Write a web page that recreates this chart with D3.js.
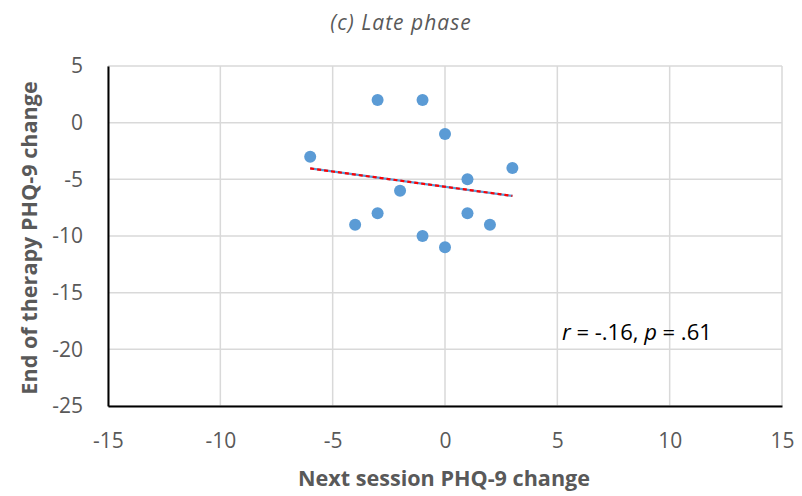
<!DOCTYPE html>
<html>
<head>
<meta charset="utf-8">
<script src="https://cdn.jsdelivr.net/npm/d3@7"></script>
<style>
  html, body { margin: 0; padding: 0; background: #fff; }
  svg { display: block; font-family: "Open Sans", "Liberation Sans", sans-serif; }
</style>
</head>
<body>
<svg id="chart" width="802" height="496"></svg>
<script>
// Late-phase change scores: next session vs end of therapy (PHQ-9)
const nextSessionChange = [-6, -3, -1, 0, 3, 1, -2, -3, -4, 1, 2, -1, 0];
const endOfTherapyChange = [-3, 2, 2, -1, -4, -5, -6, -8, -9, -8, -9, -10, -11];
const xTicks = [-15, -10, -5, 0, 5, 10, 15];
const yTicks = [5, 0, -5, -10, -15, -20, -25];
const titleText = "(c) Late phase";
const xTitle = "Next session PHQ-9 change";
const yTitle = "End of therapy PHQ-9 change";

const svg = d3.select("#chart");

const x = d3.scaleLinear().domain([-15, 15]).range([108, 782]);
const y = d3.scaleLinear().domain([-25, 5]).range([406, 66]);

const grey = "#595959";

// gridlines
svg.append("g").selectAll("line").data(xTicks).join("line")
  .attr("x1", d => x(d)).attr("x2", d => x(d))
  .attr("y1", y(5)).attr("y2", y(-25))
  .attr("stroke", "#d9d9d9").attr("stroke-width", 1.5);
svg.append("g").selectAll("line").data(yTicks).join("line")
  .attr("x1", x(-15)).attr("x2", x(15))
  .attr("y1", d => y(d)).attr("y2", d => y(d))
  .attr("stroke", "#d9d9d9").attr("stroke-width", 1.5);

// axes
const xAxis = svg.append("g").attr("transform", `translate(0,${y(-25)})`)
  .call(d3.axisBottom(x).tickValues(xTicks).tickSize(0).tickPadding(27));
const yAxis = svg.append("g").attr("transform", `translate(${x(-15)},0)`)
  .call(d3.axisLeft(y).tickValues(yTicks).tickSize(0).tickPadding(25));
[xAxis, yAxis].forEach(g => {
  g.select(".domain").attr("stroke", "#000").attr("stroke-width", 2);
  g.selectAll("text").attr("fill", grey).attr("font-size", 21)
    .attr("font-family", "'Open Sans', sans-serif")
    .text(d => d < 0 ? "-" + Math.abs(d) : d);
});

// least-squares trend line over the data's x range
const n = nextSessionChange.length;
const mx = d3.mean(nextSessionChange), my = d3.mean(endOfTherapyChange);
let sxy = 0, sxx = 0;
for (let i = 0; i < n; i++) {
  sxy += (nextSessionChange[i] - mx) * (endOfTherapyChange[i] - my);
  sxx += (nextSessionChange[i] - mx) ** 2;
}
const slope = sxy / sxx, intercept = my - slope * mx;
const [x0, x1] = d3.extent(nextSessionChange);
const trend = [[x0, intercept + slope * x0], [x1, intercept + slope * x1]];
const line = d3.line().x(d => x(d[0])).y(d => y(d[1]));
svg.append("path").datum(trend).attr("d", line)
  .attr("stroke", "#5B9BD5").attr("stroke-width", 2.2).attr("fill", "none");
svg.append("path").datum(trend).attr("d", line)
  .attr("stroke", "#ff0000").attr("stroke-width", 2.2).attr("fill", "none")
  .attr("stroke-dasharray", "4,3");

// points
svg.append("g").selectAll("circle").data(d3.zip(nextSessionChange, endOfTherapyChange)).join("circle")
  .attr("cx", d => x(d[0])).attr("cy", d => y(d[1])).attr("r", 6)
  .attr("fill", "#5B9BD5");

// title
svg.append("text").attr("x", 401).attr("y", 30).attr("text-anchor", "middle")
  .attr("font-size", 21).attr("font-style", "italic").attr("fill", grey)
  .attr("letter-spacing", 1)
  .text(titleText);

// axis titles
svg.append("text").attr("x", 444).attr("y", 486).attr("text-anchor", "middle")
  .attr("font-size", 21.6).attr("font-weight", "bold").attr("fill", grey)
  .text(xTitle);
svg.append("text").attr("transform", "translate(37,238) rotate(-90)")
  .attr("text-anchor", "middle").attr("font-size", 21.6).attr("font-weight", "bold").attr("fill", grey)
  .text(yTitle);

// correlation annotation
const ann = svg.append("text").attr("x", 562).attr("y", 340).attr("font-size", 22).attr("fill", "#000");
ann.append("tspan").attr("font-style", "italic").text("r");
ann.append("tspan").text(" = -.16, ");
ann.append("tspan").attr("font-style", "italic").text("p");
ann.append("tspan").text(" = .61");
</script>
</body>
</html>
